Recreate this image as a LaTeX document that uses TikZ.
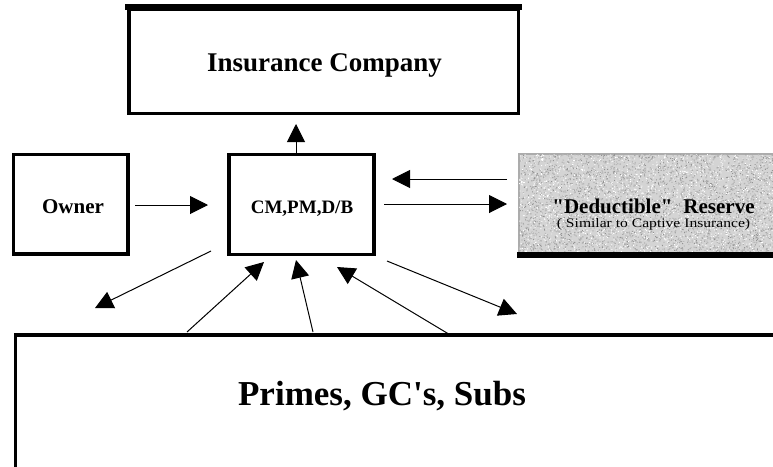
\documentclass[tikz,border=0pt]{standalone}
\usepackage{fontspec}
\setmainfont{Liberation Serif}[Ligatures=TeXOff]
\usetikzlibrary{arrows.meta,calc}

\tikzset{
  frame/.style={draw=black, line width=3.6pt, fill=white, inner sep=0pt},
  label/.style={font=\bfseries, inner sep=0pt, anchor=base},
  arr/.style={line width=1pt, -{Triangle[length=18pt,width=18pt]}},
}

\begin{document}
\begin{tikzpicture}[x=1pt, y=-1pt]
  \clip (0,0) rectangle (773,466);
  \fill[white] (0,0) rectangle (773,466);

  % boxes
  \node[frame, minimum width=389.5pt, minimum height=104.5pt] (ins) at (323.75,61.25) {};
  \draw[line width=6pt] ($(ins.north west)+(-1.8,0)$) -- ($(ins.north east)+(1.8,0)$);
  \node[frame, minimum width=114.5pt, minimum height=99.5pt] (own) at (70.75,204.25) {};
  \node[frame, minimum width=145pt, minimum height=100pt] (cm) at (301.5,204.5) {};
  \node[frame, minimum width=800pt, minimum height=200pt, anchor=north west] (prm) at (13.5,333) {};

  % stippled reserve box
  \node[draw=gray!65, line width=1.6pt, fill=gray!34, minimum width=300pt,
        minimum height=100pt, anchor=north west, inner sep=0pt] (res) at (518,153) {};
  \begin{scope}
    \clip (519,154) rectangle (773,252);
    \pgfmathsetseed{41}
    \fill[gray!85] \foreach \k in {1,...,2200}
      {(519+254*rnd,154+98*rnd) rectangle ++(0.9,0.9)};
    \fill[white] \foreach \k in {1,...,2000}
      {(519+254*rnd,154+98*rnd) rectangle ++(0.9,0.9)};
    \fill[gray!55] \foreach \k in {1,...,1200}
      {(519+254*rnd,154+98*rnd) rectangle ++(1.2,1.2)};
  \end{scope}
  \fill[black] (517,252) rectangle (773,258);

  % labels
  \node[label, font=\bfseries\fontsize{27}{30}\selectfont] (tIns) at (324.5,71) {Insurance Company};
  \node[label, font=\bfseries\fontsize{21}{24}\selectfont] (tOwn) at (73,213) {Owner};
  \node[label, font=\bfseries\fontsize{19}{22}\selectfont] (tCm) at (302,213) {CM,PM,D/B};
  \node[label, font=\bfseries\fontsize{21}{24}\selectfont] (tRes) at (653.5,213.5) {"Deductible"\hspace{11pt}Reserve};
  \node[label, font=\fontsize{13}{15}\selectfont] (tRes2) at (653.5,227)
    {\scalebox{1.2}[1]{( Similar to Captive Insurance)}};
  \node[label, font=\bfseries\fontsize{35}{40}\selectfont] (tPrm) at (382,405) {Primes, GC's, Subs};

  % connector end points
  \coordinate (upA) at (296,153);   \coordinate (upB) at (296,124);
  \coordinate (owA) at (135,205);   \coordinate (owB) at (208,205);
  \coordinate (rtA) at (384,204);   \coordinate (rtB) at (507,204);
  \coordinate (ltA) at (507,179);   \coordinate (ltB) at (392,179);
  \coordinate (d1A) at (211,251);   \coordinate (d1B) at (95,308);
  \coordinate (d2A) at (187,332);   \coordinate (d2B) at (264,262);
  \coordinate (d3A) at (313,332);   \coordinate (d3B) at (296,260);
  \coordinate (d4A) at (452,336);   \coordinate (d4B) at (337,267);
  \coordinate (d5A) at (387,261);   \coordinate (d5B) at (517,314);

  % connectors
  \draw[arr] (upA) -- (upB);
  \draw[arr] (owA) -- (owB);
  \draw[arr] (rtA) -- (rtB);
  \draw[arr] (ltA) -- (ltB);
  \draw[arr] (d1A) -- (d1B);
  \draw[arr] (d2A) -- (d2B);
  \draw[arr] (d3A) -- (d3B);
  \draw[arr] (d4A) -- (d4B);
  \draw[arr] (d5A) -- (d5B);
\end{tikzpicture}
\end{document}
